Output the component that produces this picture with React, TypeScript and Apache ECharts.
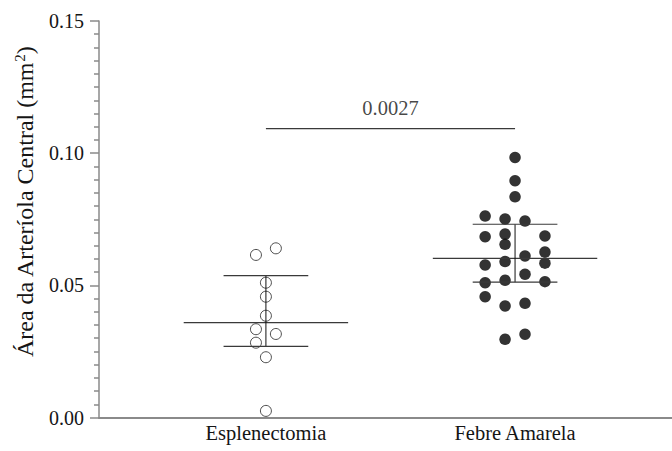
import React, { useEffect, useRef } from "react";
import * as echarts from "echarts";

const categories = ["Esplenectomia", "Febre Amarela"];

// Esplenectomia values (mm²) and their column offsets (dot-plot spread)
const esplenValues = [0.0615, 0.064, 0.051, 0.0457, 0.0385, 0.0334, 0.0316, 0.0283, 0.0228, 0.0025];
const esplenCols = [-1, 1, 0, 0, 0, -1, 1, -1, 0, 0];

// Febre Amarela values (mm²) and their column offsets
const febreValues = [
  0.0984, 0.0896, 0.0835, 0.0762, 0.0751, 0.0743, 0.0684, 0.0694, 0.0655, 0.0687, 0.0626, 0.0611,
  0.059, 0.0584, 0.0577, 0.0542, 0.051, 0.0519, 0.0514, 0.0457, 0.0422, 0.0432, 0.0296, 0.0315,
];
const febreCols = [0, 0, 0, -3, -1, 1, -3, -1, -1, 3, 3, 1, -1, 3, -3, 1, -3, -1, 3, -3, -1, 1, -1, 1];

// Median and interquartile range per group
const medians = [0.0359, 0.0602];
const q1s = [0.0269, 0.0512];
const q3s = [0.0537, 0.0731];

// Significance annotation
const sigY = 0.1093;
const sigLabel = "0.0027";

const yTicks = [0, 0.05, 0.1, 0.15];
const yTitle = "Área da Arteríola Central (mm";

const COL_STEP = 0.04;
const FONT = "Liberation Serif";
const TEXT = "#151515";

export default function App() {
  const ref = useRef<HTMLDivElement>(null);

  useEffect(() => {
    if (!ref.current) return;
    const chart = echarts.init(ref.current, undefined, { renderer: "svg" });

    const esplenData = esplenValues.map((v, i) => [1 + esplenCols[i] * COL_STEP, v]);
    const febreData = febreValues.map((v, i) => [2 + febreCols[i] * COL_STEP, v]);
    const summary = medians.map((m, i) => [i + 1, m, q1s[i], q3s[i]]);

    chart.setOption({
      animation: false,
      textStyle: { fontFamily: FONT },
      grid: { left: 99, right: 0, top: 21, bottom: 33.5 },
      graphic: [
        {
          type: "text",
          x: 25,
          y: 202,
          rotation: Math.PI / 2,
          style: {
            text: "{a|" + yTitle + "}{s|2}{a|)}",
            textAlign: "center",
            textVerticalAlign: "middle",
            rich: {
              a: { fontFamily: FONT, fontSize: 24, fill: TEXT, color: TEXT },
              s: { fontFamily: FONT, fontSize: 15, fill: TEXT, color: TEXT, verticalAlign: "top", padding: [0, 0, 11, 0] },
            },
          },
        },
      ],
      xAxis: {
        type: "value",
        min: 0.33,
        max: 2.63,
        splitLine: { show: false },
        axisLine: { show: true, lineStyle: { color: "#8a8a8a", width: 2 } },
        axisTick: { show: false },
        axisLabel: {
          customValues: [1, 2],
          formatter: (v: number) => categories[Math.round(v) - 1] ?? "",
          fontFamily: FONT,
          fontSize: 20.5,
          color: TEXT,
          margin: 5,
        },
      },
      yAxis: {
        type: "value",
        min: yTicks[0],
        max: yTicks[yTicks.length - 1],
        interval: 0.05,
        splitLine: { show: false },
        axisLine: { show: true, lineStyle: { color: "#8a8a8a", width: 1.5 } },
        axisTick: { show: true, length: 9, lineStyle: { color: "#8a8a8a", width: 1.5 } },
        minorTick: { show: true, splitNumber: 10, length: 5, lineStyle: { color: "#8a8a8a", width: 1.5 } },
        axisLabel: {
          formatter: (v: number) => v.toFixed(2),
          fontFamily: FONT,
          fontSize: 20,
          color: TEXT,
          margin: 15,
        },
      },
      series: [
        {
          type: "scatter",
          data: esplenData,
          symbol: "circle",
          symbolSize: 11,
          itemStyle: { color: "#ffffff", borderColor: "#222", borderWidth: 1 },
          z: 2,
        },
        {
          type: "scatter",
          data: febreData,
          symbol: "circle",
          symbolSize: 11.5,
          itemStyle: { color: "#000000" },
          z: 2,
        },
        {
          type: "custom",
          data: summary,
          z: 3,
          renderItem: (params: any, api: any) => {
            const x = api.value(0);
            const med = api.coord([x, api.value(1)]);
            const lo = api.coord([x, api.value(2)]);
            const hi = api.coord([x, api.value(3)]);
            const medL = api.coord([x - 0.33, api.value(1)]);
            const medR = api.coord([x + 0.33, api.value(1)]);
            const capL = api.coord([x - 0.17, 0])[0];
            const capR = api.coord([x + 0.17, 0])[0];
            const style = { stroke: "#3a3a3a", lineWidth: 1.2 };
            return {
              type: "group",
              children: [
                { type: "line", shape: { x1: medL[0], y1: med[1], x2: medR[0], y2: med[1] }, style },
                { type: "line", shape: { x1: med[0], y1: lo[1], x2: med[0], y2: hi[1] }, style: { stroke: "#111", lineWidth: 1 } },
                { type: "line", shape: { x1: capL, y1: lo[1], x2: capR, y2: lo[1] }, style },
                { type: "line", shape: { x1: capL, y1: hi[1], x2: capR, y2: hi[1] }, style },
              ],
            };
          },
        },
        {
          type: "line",
          data: [
            [1, sigY],
            [2, sigY],
          ],
          symbol: "none",
          lineStyle: { color: "#3a3a3a", width: 1.2 },
          z: 3,
        },
        {
          type: "scatter",
          data: [[1.5, sigY]],
          symbolSize: 0,
          label: {
            show: true,
            position: "top",
            distance: 10,
            formatter: () => sigLabel,
            fontFamily: FONT,
            fontSize: 20.5,
            color: TEXT,
          },
          z: 3,
        },
      ],
    });

    return () => chart.dispose();
  }, []);

  return (
    <div
      ref={ref}
      style={{ position: "fixed", left: 0, top: 0, width: 672, height: 451, background: "#ffffff" }}
    />
  );
}
